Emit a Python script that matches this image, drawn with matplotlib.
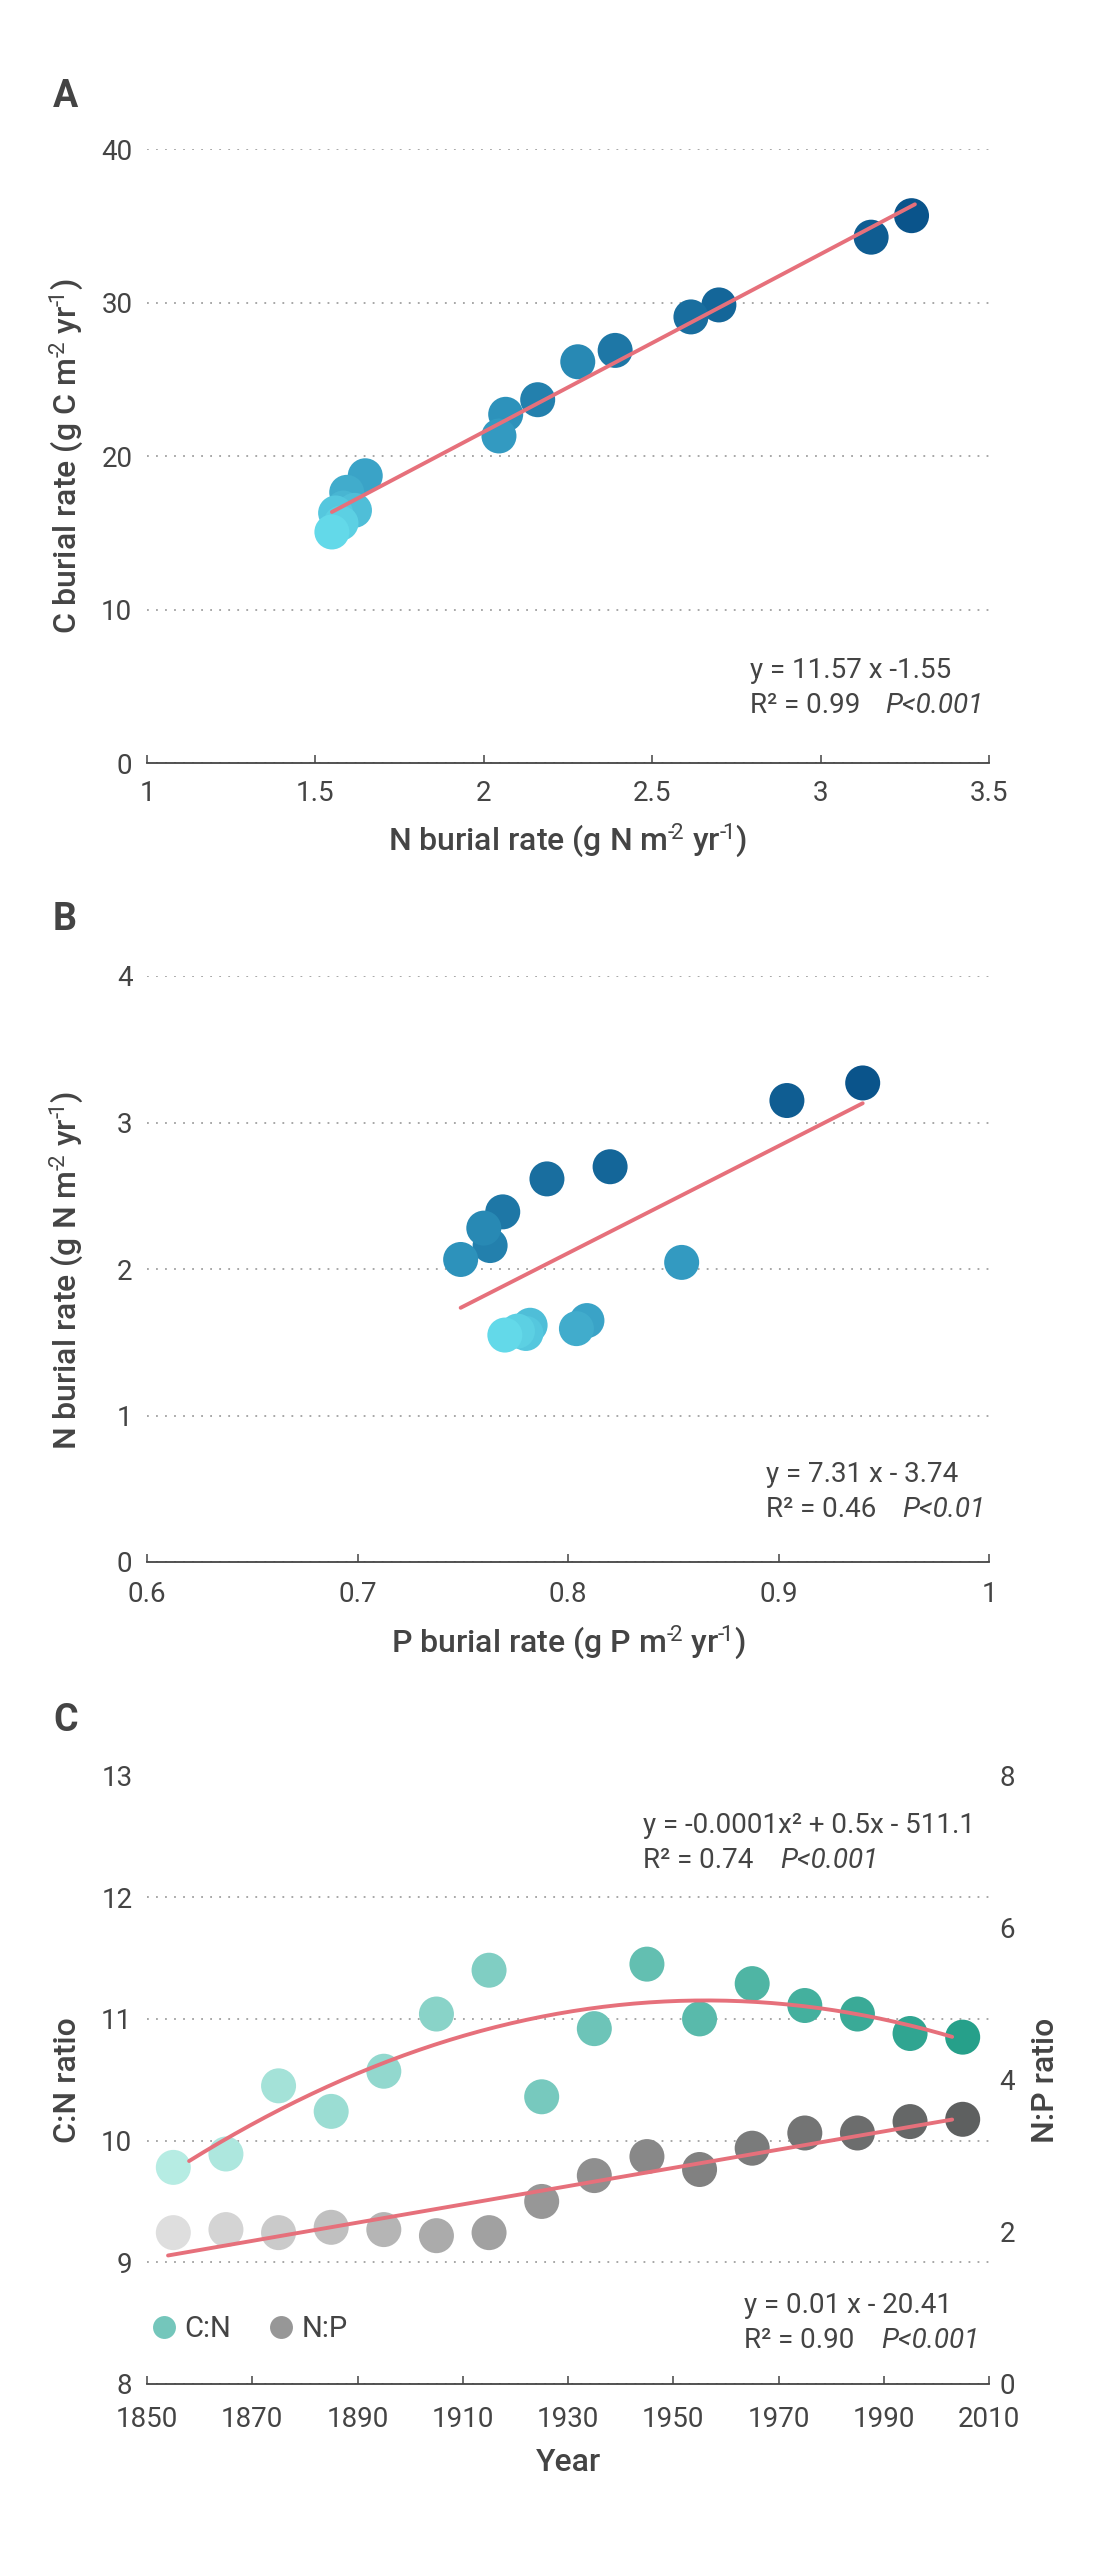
import numpy as np
import matplotlib
matplotlib.use('Agg')
import matplotlib.pyplot as plt
from matplotlib.colors import LinearSegmentedColormap
from matplotlib.lines import Line2D
from matplotlib.ticker import FuncFormatter

plt.rcParams['font.family'] = ['Roboto', 'DejaVu Sans']
plt.rcParams['mathtext.fontset'] = 'custom'
plt.rcParams['mathtext.rm'] = 'Roboto'
plt.rcParams['mathtext.it'] = 'Roboto:italic'
plt.rcParams['mathtext.bf'] = 'Roboto:bold'

# ---------------- data ----------------
years = [1855, 1865, 1875, 1885, 1895, 1905, 1915, 1925,
         1935, 1945, 1955, 1965, 1975, 1985, 1995, 2005]
n_burial = [1.549, 1.576, 1.560, 1.616, 1.583, 1.593, 1.648, 2.045,
            2.065, 2.279, 2.160, 2.390, 2.615, 2.698, 3.150, 3.270]
c_burial = [15.07, 15.65, 16.31, 16.48, 16.63, 17.65, 18.73, 21.32,
            22.73, 26.15, 23.68, 26.89, 29.07, 29.85, 34.26, 35.66]
p_burial = [0.770, 0.776, 0.780, 0.782, 0.779, 0.804, 0.809, 0.854,
            0.749, 0.760, 0.763, 0.769, 0.790, 0.820, 0.904, 0.940]
cn_ratio = [9.78, 9.89, 10.45, 10.24, 10.57, 11.04, 11.40, 10.36,
            10.92, 11.45, 11.00, 11.29, 11.11, 11.04, 10.88, 10.85]
np_ratio = [1.99, 2.03, 1.99, 2.06, 2.03, 1.95, 1.99, 2.40,
            2.74, 2.99, 2.82, 3.10, 3.30, 3.30, 3.45, 3.48]

fit_a = (11.57, -1.55)
fit_b = (7.31, -3.74)

eq_a = ["y = 11.57 x -1.55", "R² = 0.99", "P<0.001"]
eq_b = ["y = 7.31 x - 3.74", "R² = 0.46", "P<0.01"]
eq_c1 = ["y = -0.0001x² + 0.5x - 511.1", "R² = 0.74", "P<0.001"]
eq_c2 = ["y = 0.01 x - 20.41", "R² = 0.90", "P<0.001"]

xticks_a = [1, 1.5, 2, 2.5, 3, 3.5]
yticks_a = [0, 10, 20, 30, 40]
xticks_b = [0.6, 0.7, 0.8, 0.9, 1.0]
yticks_b = [0, 1, 2, 3, 4]
xticks_c = [1850, 1870, 1890, 1910, 1930, 1950, 1970, 1990, 2010]
yticks_cl = [8, 9, 10, 11, 12, 13]
yticks_cr = [0, 2, 4, 6, 8]

# ---------------- style ----------------
W, H = 1100, 2554
TXT = '#444444'
LINE = '#e6707b'
GRID = '#a0a0a0'
cmap_blue = LinearSegmentedColormap.from_list('b', ['#63d9e9', '#3096be', '#0a548b'])
cmap_teal = LinearSegmentedColormap.from_list('t', ['#b6ece3', '#72c7bb', '#26a08a'])
cmap_gray = LinearSegmentedColormap.from_list('g', ['#dedede', '#929292', '#5e6060'])

yrs = np.array(years, dtype=float)
N = np.array(n_burial)
C = np.array(c_burial)
P = np.array(p_burial)
CN = np.array(cn_ratio)
NP = np.array(np_ratio)
idx = (yrs - yrs.min()) / (yrs.max() - yrs.min())

fig = plt.figure(figsize=(W / 100, H / 100), dpi=100)


def ax_rect(left, right, top, bottom):
    return [left / W, 1 - bottom / H, (right - left) / W, (bottom - top) / H]


def ftext(x, y, s, **kw):
    kw.setdefault('color', TXT)
    kw.setdefault('va', 'baseline')
    return fig.text(x / W, 1 - y / H, s, **kw)


def fmt(v, pos):
    return ('%g' % v)


def style_axes(ax, xpad):
    for s in ['top', 'right', 'left']:
        ax.spines[s].set_visible(False)
    ax.spines['bottom'].set_color(TXT)
    ax.spines['bottom'].set_linewidth(1.3)
    ax.tick_params(axis='x', direction='in', length=6, width=1.1, color=TXT,
                   labelsize=20, labelcolor=TXT, pad=xpad)
    ax.tick_params(axis='y', length=0, labelsize=20, labelcolor=TXT, pad=10.5)
    ax.yaxis.grid(True, linestyle=(0, (1, 4)), color=GRID, linewidth=1.3)
    ax.set_axisbelow(True)
    ax.xaxis.set_major_formatter(FuncFormatter(fmt))
    ax.yaxis.set_major_formatter(FuncFormatter(fmt))


S = 635
LW = 2.8

# ---------------- Panel A ----------------
axA = fig.add_axes(ax_rect(147, 989, 149, 763.5))
style_axes(axA, 12)
axA.set_xlim(1, 3.5)
axA.set_ylim(0, 40)
axA.set_xticks(xticks_a)
axA.set_yticks(yticks_a)
axA.scatter(N[::-1], C[::-1], c=cmap_blue(idx[::-1]), s=S, linewidths=0,
            zorder=3, clip_on=False)
xa = np.linspace(N.min(), N.max() + 0.01, 50)
axA.plot(xa, fit_a[0] * xa + fit_a[1], color=LINE, lw=LW,
         solid_capstyle='round', zorder=4)

# ---------------- Panel B ----------------
axB = fig.add_axes(ax_rect(147, 989, 976, 1562))
style_axes(axB, 14)
axB.set_xlim(0.6, 1.0)
axB.set_ylim(0, 4)
axB.set_xticks(xticks_b)
axB.set_yticks(yticks_b)
axB.scatter(P[::-1], N[::-1], c=cmap_blue(idx[::-1]), s=S, linewidths=0,
            zorder=3, clip_on=False)
xb = np.linspace(P.min(), P.max(), 50)
axB.plot(xb, fit_b[0] * xb + fit_b[1], color=LINE, lw=LW,
         solid_capstyle='round', zorder=4)

# ---------------- Panel C ----------------
axC = fig.add_axes(ax_rect(147, 989, 1775.5, 2384))
style_axes(axC, 15.5)
axC.set_xlim(1850, 2010)
axC.set_ylim(8, 13)
axC.set_xticks(xticks_c)
axC.set_yticks(yticks_cl)
axR = axC.twinx()
for s in ['top', 'right', 'left', 'bottom']:
    axR.spines[s].set_visible(False)
axR.set_ylim(0, 8)
axR.set_yticks(yticks_cr)
axR.tick_params(axis='y', length=0, labelsize=20, labelcolor=TXT, pad=7.5)
axR.yaxis.set_major_formatter(FuncFormatter(fmt))

axC.scatter(yrs, CN, c=cmap_teal(idx), s=S, linewidths=0, zorder=3, clip_on=False)
axR.scatter(yrs, NP, c=cmap_gray(idx), s=S, linewidths=0, zorder=3, clip_on=False)

pcn = np.polynomial.Polynomial.fit(yrs, CN, 2)
xc1 = np.linspace(1858, 2003, 200)
axC.plot(xc1, pcn(xc1), color=LINE, lw=LW, solid_capstyle='round', zorder=4)
pnp = np.polynomial.Polynomial.fit(yrs, NP, 1)
xc2 = np.linspace(1854, 2003, 200)
axR.plot(xc2, pnp(xc2), color=LINE, lw=LW, solid_capstyle='round', zorder=4)

handles = [Line2D([], [], ls='none', marker='o', ms=16.5, mew=0, color='#74c6bb', label='C:N'),
           Line2D([], [], ls='none', marker='o', ms=16.5, mew=0, color='#979797', label='N:P')]
leg = axR.legend(handles=handles, loc='center left', bbox_to_anchor=(0.003, 0.09),
                 ncol=2, frameon=False, fontsize=21, handlelength=1.0,
                 handletextpad=0.2, columnspacing=1.2, borderpad=0, borderaxespad=0)
for t in leg.get_texts():
    t.set_color(TXT)

# ---------------- texts ----------------
for (eq, xl, yb, xp) in [(eq_a, 750, 678, 885), (eq_b, 766, 1482, 902),
                         (eq_c1, 643, 1833, 780), (eq_c2, 744, 2313, 881)]:
    ftext(xl, yb, eq[0], fontsize=20)
    ftext(xl, yb + 35, eq[1], fontsize=20)
    ftext(xp, yb + 35, eq[2], fontsize=20, style='italic')

for (lab, y) in [('A', 107), ('B', 930), ('C', 1731)]:
    ftext(53, y, lab, fontsize=27, weight='bold')

SUP2 = '$^{\u2010\\!2}$'
SUP1 = '$^{\u2010\\!1}$'
lab_n = 'N burial rate (g N m' + SUP2 + ' yr' + SUP1 + ')'
lab_p = 'P burial rate (g P m' + SUP2 + ' yr' + SUP1 + ')'
lab_c = 'C burial rate (g C m' + SUP2 + ' yr' + SUP1 + ')'

ftext(568, 850, lab_n, fontsize=23, weight='medium', ha='center')
ftext(568, 1652, lab_p, fontsize=23, weight='medium', ha='center')
ftext(568, 2471, 'Year', fontsize=23, weight='medium', ha='center')

ftext(67, 456, lab_c, fontsize=23, weight='medium',
      rotation=90, ha='center', va='center')
ftext(67, 1270, lab_n, fontsize=23, weight='medium',
      rotation=90, ha='center', va='center')
ftext(67, 2080, 'C:N ratio', fontsize=23, weight='medium', rotation=90, ha='center', va='center')
ftext(1045, 2080, 'N:P ratio', fontsize=23, weight='medium', rotation=90, ha='center', va='center')

fig.savefig('out.png', dpi=100)
